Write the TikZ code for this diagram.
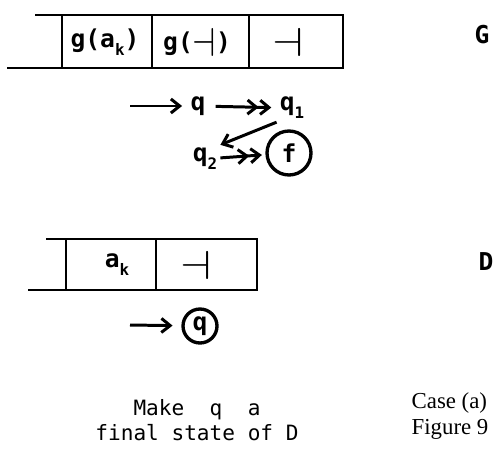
\documentclass[tikz,border=0pt]{standalone}
\usepackage{fontspec}
\setmonofont{DejaVu Sans Mono}
\newfontfamily\capfont{Liberation Serif}
\usepackage{tikz}
\usetikzlibrary{arrows.meta}

\newcommand{\low}[1]{\raisebox{-0.6ex}{\small #1}}
\newcommand{\tapeend}[1]{\raisebox{-0.4ex}{\scalebox{#1}[1.6]{$\dashv$}}}

\begin{document}
\begin{tikzpicture}[x=0.02cm,y=-0.02cm,line width=1.7pt,
  >={Straight Barb[length=5pt,width=8pt]},
  lbl/.style={font=\ttfamily\bfseries\fontsize{14}{16}\selectfont,inner sep=1pt},
  acc/.style={circle,draw,line width=1.9pt,minimum size=0.88cm,inner sep=0pt,
    font=\ttfamily\bfseries\fontsize{14}{16}\selectfont},
  trans/.style={shorten <=4pt,shorten >=3pt}]
\useasboundingbox (0,0) rectangle (500,453);

% tape of G
\draw (35,15) -- (343,15) -- (343,68) -- (7,68);
\foreach \x in {62,152,249} \draw (\x,15) -- (\x,68);
\node[lbl] (gak) at (105,42) {g(a\low{k})};
\node[lbl] (gend) at (197,42) {g(\tapeend{1.5})};
\node[lbl] (endG) at (288,42) {\tapeend{2}};
\node[lbl] (G) at (482,35) {G};

% automaton of G
\coordinate (in1) at (130,106);
\node[lbl] (q) at (198,106) {q};
\node[lbl] (q1) at (292,108) {q\low{1}};
\node[lbl] (q2) at (205,159) {q\low{2}};
\node[acc] (f) at (289,153) {f};
\draw[->,shorten >=3pt] (in1) -- (q);
\draw[->>,trans] (q) -- (q1);
\draw[->] (q1.south west) -- (q2.north east);
\draw[->>,shorten >=2pt] (q2) -- (f);

% tape of D
\draw (46,239) -- (257,239) -- (257,290) -- (28,290);
\foreach \x in {66,156} \draw (\x,239) -- (\x,290);
\node[lbl] (ak) at (117,265) {a\low{k}};
\node[lbl] (endD) at (196,265) {\tapeend{2}};
\node[lbl] (D) at (486,262) {D};
\coordinate (in2) at (130,325);
\node[acc,minimum size=0.68cm] (qf) at (200,326) {q};
\draw[->,shorten >=5pt] (in2) -- (qf);

% notes
\node[lbl,font=\ttfamily\fontsize{12}{14}\selectfont,align=center] (note) at (197,420) {Make\ \ q\ \ a\\final state of D};
\node[font=\capfont\fontsize{13}{15}\selectfont,align=left] (cap) at (450,416) {Case (a)\\Figure 9};
\end{tikzpicture}
\end{document}
